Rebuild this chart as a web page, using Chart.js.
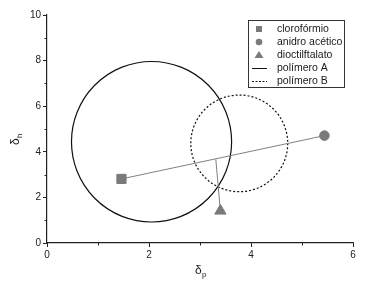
<!DOCTYPE html>
<html>
<head>
<meta charset="utf-8">
<script src="https://cdn.jsdelivr.net/npm/chart.js@4.4.1/dist/chart.umd.min.js"></script>
<style>
  html, body { margin: 0; padding: 0; background: #fff; }
  #wrap { width: 370px; height: 287px; }
</style>
</head>
<body>
<div id="wrap"><canvas id="chart" width="370" height="287"></canvas></div>
<script>
// solvents (x = delta p, y = delta h)
const solventNames = ["clorofórmio", "anidro acético", "dioctilftalato"];
const solventX = [1.46, 5.44, 3.40];
const solventY = [2.81, 4.71, 1.41];

// connecting lines
const lineAX = [1.46, 5.44];
const lineAY = [2.81, 4.71];
const lineBX = [3.31, 3.40];
const lineBY = [3.67, 1.41];

// polymer regions: center and radius along each axis (data units)
const polymerNames = ["polímero A", "polímero B"];
const polymerCX = [2.05, 3.77];
const polymerCY = [4.44, 4.37];
const polymerRX = [1.57, 0.95];
const polymerRY = [3.52, 2.12];

const xTicks = [0, 2, 4, 6];
const yTicks = [0, 2, 4, 6, 8, 10];

const markerColor = "#7a7a7a";
const pointStyles = ["rect", "circle", "triangle"];
const pointSizes = [6.5, 4.8, 6.5];
const FONT = "'Liberation Sans', Arial, sans-serif";

const pts = (xs, ys) => xs.map((x, i) => ({ x: x, y: ys[i] }));

const datasets = solventNames.map((name, i) => ({
  type: "scatter",
  label: name,
  data: [{ x: solventX[i], y: solventY[i] }],
  pointStyle: pointStyles[i],
  pointRadius: pointSizes[i],
  pointBackgroundColor: markerColor,
  pointBorderColor: markerColor,
  order: 0
}));
datasets.push({
  type: "line", label: "_a", data: pts(lineAX, lineAY),
  borderColor: "#808080", borderWidth: 1, pointRadius: 0, order: 1
});
datasets.push({
  type: "line", label: "_b", data: pts(lineBX, lineBY),
  borderColor: "#808080", borderWidth: 1, pointRadius: 0, order: 1
});

const circles = {
  id: "circles",
  beforeDatasetsDraw(chart) {
    const { ctx, scales: { x, y } } = chart;
    ctx.save();
    ctx.strokeStyle = "#111";
    ctx.lineWidth = 1.2;
    polymerCX.forEach((cx, i) => {
      const px = x.getPixelForValue(cx), py = y.getPixelForValue(polymerCY[i]);
      const rx = Math.abs(x.getPixelForValue(cx + polymerRX[i]) - px);
      const ry = Math.abs(y.getPixelForValue(polymerCY[i] + polymerRY[i]) - py);
      ctx.setLineDash(i === 1 ? [2, 2] : []);
      ctx.beginPath();
      ctx.ellipse(px, py, rx, ry, 0, 0, Math.PI * 2);
      ctx.stroke();
    });
    ctx.restore();
  }
};

const decor = {
  id: "decor",
  afterDraw(chart) {
    const ctx = chart.ctx;
    const { x, y } = chart.scales;
    ctx.save();
    // minor ticks
    ctx.strokeStyle = "#222";
    ctx.lineWidth = 1;
    [1, 3, 5].forEach(v => {
      const px = Math.round(x.getPixelForValue(v)) + 0.5;
      ctx.beginPath(); ctx.moveTo(px, y.bottom); ctx.lineTo(px, y.bottom + 2.5); ctx.stroke();
    });
    [1, 3, 5, 7, 9].forEach(v => {
      const py = Math.round(y.getPixelForValue(v)) + 0.5;
      ctx.beginPath(); ctx.moveTo(x.left, py); ctx.lineTo(x.left - 2.5, py); ctx.stroke();
    });

    // legend box
    ctx.strokeStyle = "#333";
    ctx.strokeRect(248.5, 20.5, 96, 67);
    const rows = [29, 42, 55, 68, 81];
    ctx.fillStyle = markerColor;
    ctx.fillRect(256, rows[0] - 3, 6, 6);
    ctx.beginPath(); ctx.arc(259, rows[1], 3.3, 0, Math.PI * 2); ctx.fill();
    ctx.beginPath();
    ctx.moveTo(259, rows[2] - 4); ctx.lineTo(263.5, rows[2] + 3); ctx.lineTo(254.5, rows[2] + 3);
    ctx.closePath(); ctx.fill();
    ctx.strokeStyle = "#111";
    ctx.beginPath(); ctx.moveTo(252, rows[3] + 0.5); ctx.lineTo(267, rows[3] + 0.5); ctx.stroke();
    ctx.setLineDash([2, 1.5]);
    ctx.beginPath(); ctx.moveTo(252, rows[4] + 0.5); ctx.lineTo(267, rows[4] + 0.5); ctx.stroke();
    ctx.setLineDash([]);
    ctx.fillStyle = "#1a1a1a";
    ctx.font = "10.5px " + FONT;
    ctx.textBaseline = "middle";
    solventNames.concat(polymerNames).forEach((t, i) => ctx.fillText(t, 277, rows[i] + 0.5));

    // axis titles
    ctx.textBaseline = "alphabetic";
    ctx.font = "12px " + FONT;
    ctx.fillText("δ", 195, 274);
    ctx.font = "8px " + FONT;
    ctx.fillText("p", 202, 277);
    ctx.translate(19, 145);
    ctx.rotate(-Math.PI / 2);
    ctx.font = "12px " + FONT;
    ctx.fillText("δ", 0, 0);
    ctx.font = "8px " + FONT;
    ctx.fillText("h", 7, 3);
    ctx.restore();
  }
};

new Chart(document.getElementById("chart"), {
  data: { datasets: datasets },
  plugins: [circles, decor],
  options: {
    responsive: false,
    animation: false,
    layout: { padding: { top: 15, right: 17, left: 0, bottom: 0 } },
    plugins: { legend: { display: false }, tooltip: { enabled: false } },
    scales: {
      x: {
        type: "linear", min: 0, max: 6,
        afterFit: (s) => { s.height = 44; },
        afterBuildTicks: (s) => { s.ticks = xTicks.map(v => ({ value: v })); },
        border: { color: "#222", width: 1.2 },
        grid: { drawOnChartArea: false, tickLength: 4, tickColor: "#222" },
        ticks: { color: "#222", font: { size: 10, family: FONT }, padding: 2, maxRotation: 0 }
      },
      y: {
        type: "linear", min: 0, max: 10,
        afterFit: (s) => { s.width = 47; },
        afterBuildTicks: (s) => { s.ticks = yTicks.map(v => ({ value: v })); },
        border: { color: "#222", width: 1.2 },
        grid: { drawOnChartArea: false, tickLength: 4, tickColor: "#222" },
        ticks: { color: "#222", font: { size: 10, family: FONT }, padding: 2 }
      }
    }
  }
});
</script>
</body>
</html>
